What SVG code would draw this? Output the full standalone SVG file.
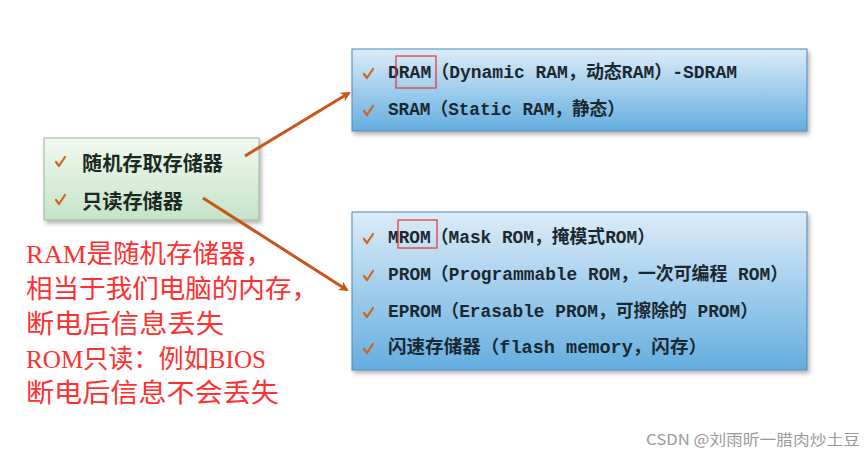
<svg xmlns="http://www.w3.org/2000/svg" width="865" height="453" viewBox="0 0 865 453">
<style>
.item{font-family:"Liberation Mono","Noto Sans CJK SC",monospace;font-size:18px;fill:#1a2830;dominant-baseline:central;font-weight:bold}
.gitem{font-family:"Noto Sans CJK SC",sans-serif;font-size:20px;fill:#1a2a22;dominant-baseline:central;font-weight:bold}
.red{font-family:"Liberation Serif","Noto Sans CJK SC",serif;font-size:26px;fill:#ff3030;dominant-baseline:central}
.chk{fill:none;stroke:#d0661e;stroke-width:2.2;stroke-linecap:round;stroke-linejoin:round}
.conn{stroke:#c8561a;stroke-width:3;fill:none}
.hl{fill:none;stroke:#e83030;stroke-width:1.2}
</style>
<defs>
<linearGradient id="blue" x1="0" y1="0" x2="0" y2="1">
<stop offset="0" stop-color="#dcecf8"/>
<stop offset="1" stop-color="#64aee0"/>
</linearGradient>
<linearGradient id="green" x1="0" y1="0" x2="0" y2="1">
<stop offset="0" stop-color="#f2f9f0"/>
<stop offset="1" stop-color="#c4e4c8"/>
</linearGradient>
<filter id="sh" x="-10%" y="-10%" width="120%" height="130%">
<feDropShadow dx="2" dy="3" stdDeviation="2" flood-color="#000" flood-opacity="0.3"/>
</filter>
<marker id="ah" markerWidth="10" markerHeight="10" refX="8" refY="5" orient="auto" markerUnits="userSpaceOnUse">
<path d="M0,0 L10,5 L0,10 L3,5 Z" fill="#c8561a"/>
</marker>
</defs>
<rect width="865" height="453" fill="#fff"/>

<g id="node-main">
<rect x="44" y="138" width="215" height="82" fill="url(#green)" stroke="#9ab59a" stroke-width="1" filter="url(#sh)"/>
<path class="chk" d="M56,162 l3,4 l6,-9"/>
<text class="gitem" x="82" y="162" textLength="141" lengthAdjust="spacingAndGlyphs">随机存取存储器</text>
<path class="chk" d="M56,200 l3,4 l6,-9"/>
<text class="gitem" x="82" y="200" textLength="101" lengthAdjust="spacingAndGlyphs">只读存储器</text>
</g>

<g id="node-ram">
<rect x="352" y="49" width="455" height="82" fill="url(#blue)" stroke="#4d8ab8" stroke-width="1" filter="url(#sh)"/>
<path class="chk" d="M364,74 l3,4 l6,-9"/>
<text class="item" x="388" y="73" textLength="349" lengthAdjust="spacingAndGlyphs">DRAM（Dynamic RAM，动态RAM）-SDRAM</text>
<path class="chk" d="M364,111 l3,4 l6,-9"/>
<text class="item" x="388" y="110" textLength="237" lengthAdjust="spacingAndGlyphs">SRAM（Static RAM，静态）</text>
<rect class="hl" x="396" y="56" width="40" height="32"/>
</g>

<g id="node-rom">
<rect x="352" y="212" width="455" height="158" fill="url(#blue)" stroke="#4d8ab8" stroke-width="1" filter="url(#sh)"/>
<path class="chk" d="M364,239 l3,4 l6,-9"/>
<text class="item" x="388" y="238" textLength="267" lengthAdjust="spacingAndGlyphs">MROM（Mask ROM，掩模式ROM）</text>
<path class="chk" d="M364,276 l3,4 l6,-9"/>
<text class="item" x="388" y="275" textLength="400" lengthAdjust="spacingAndGlyphs">PROM（Programmable ROM，一次可编程 ROM）</text>
<path class="chk" d="M364,313 l3,4 l6,-9"/>
<text class="item" x="388" y="312" textLength="370" lengthAdjust="spacingAndGlyphs">EPROM（Erasable PROM，可擦除的 PROM）</text>
<path class="chk" d="M364,349 l3,4 l6,-9"/>
<text class="item" x="388" y="348" textLength="319" lengthAdjust="spacingAndGlyphs">闪速存储器（flash memory，闪存）</text>
<rect class="hl" x="398" y="220" width="39" height="28"/>
</g>

<g id="connectors">
<line class="conn" x1="245" y1="156" x2="349" y2="93" marker-end="url(#ah)"/>
<line class="conn" x1="203" y1="198" x2="347" y2="290" marker-end="url(#ah)"/>
</g>

<g id="note">
<text class="red" x="26" y="254" textLength="246" lengthAdjust="spacingAndGlyphs">RAM是随机存储器，</text>
<text class="red" x="26" y="289" textLength="292" lengthAdjust="spacingAndGlyphs">相当于我们电脑的内存，</text>
<text class="red" x="26" y="324" textLength="198" lengthAdjust="spacingAndGlyphs">断电后信息丢失</text>
<text class="red" x="26" y="359" textLength="240" lengthAdjust="spacingAndGlyphs">ROM只读：例如BIOS</text>
<text class="red" x="26" y="393" textLength="253" lengthAdjust="spacingAndGlyphs">断电后信息不会丢失</text>
</g>

<text x="646" y="438" font-family="Noto Sans CJK SC,sans-serif" font-size="15" fill="#9a9a9a" dominant-baseline="central" textLength="214" lengthAdjust="spacingAndGlyphs">CSDN @刘雨昕一腊肉炒土豆</text>
</svg>
